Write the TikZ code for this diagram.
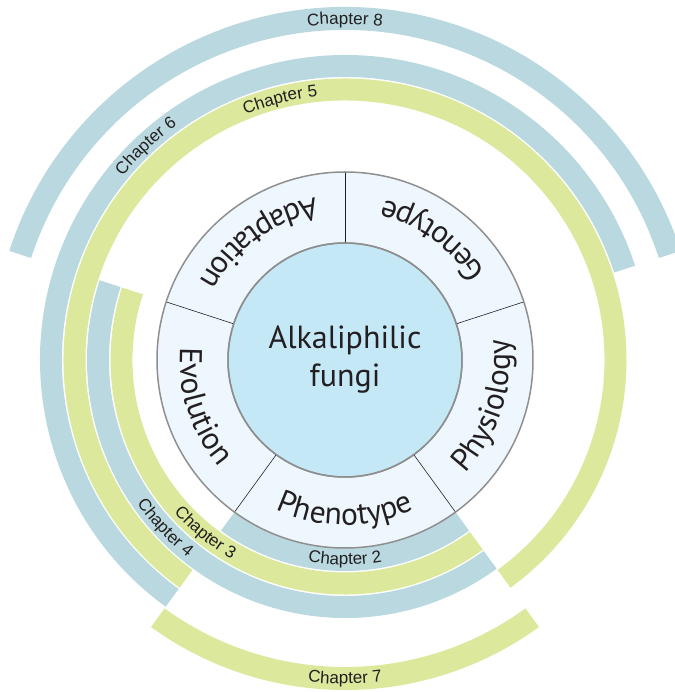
\documentclass[tikz,border=0pt]{standalone}
\usepackage{fontspec}
\setmainfont{Liberation Sans}
\newfontfamily\ptsans{PT Sans}
\newfontfamily\segfam{PT Sans}[LetterSpace=6]
\usetikzlibrary{decorations.text}

\definecolor{chblue}{HTML}{B9D8DF}
\definecolor{chgreen}{HTML}{DCE89C}
\definecolor{ringfill}{HTML}{EEF7FD}
\definecolor{hubfill}{HTML}{C5E8F7}
\definecolor{rimgray}{HTML}{8F8F8F}
\definecolor{ink}{HTML}{231F20}

\newcommand{\segfont}{\segfam\fontsize{31.5}{33}\selectfont}
\newcommand{\chfont}{\fontsize{17}{19}\selectfont}
\newcommand{\hubfont}{\ptsans\fontsize{32}{38}\selectfont}
% colour, inner radius, outer radius, start angle, end angle
\newcommand{\chband}[5]{\fill[#1] (#4:#2) arc[start angle=#4, end angle=#5, radius=#2] -- (#5:#3) arc[start angle=#5, end angle=#4, radius=#3] -- cycle;}

\tikzset{
  curvetext/.style={decorate, decoration={text along path, text align=center, text color=ink, text={#1}}},
  rim/.style={draw=rimgray, line width=1.5pt},
}

\begin{document}
\begin{tikzpicture}[x=1pt, y=1pt]
	\useasboundingbox (-345,-332) rectangle (329,360);
	\chband{chblue}{188}{211}{-126}{-54}
	\chband{chgreen}{212.5}{234.5}{162}{306}
	\chband{chblue}{236}{258}{162}{306}
	\chband{chgreen}{259.5}{281.5}{-54}{234}
	\chband{chblue}{283}{305}{18}{234}
	\chband{chgreen}{307}{330}{-126}{-54}
	\chband{chblue}{330}{353}{18}{162}
	\fill[ringfill] (0,0) circle[radius=188];
	\node[circle, rim, fill=hubfill, minimum size=234pt, inner sep=0pt, outer sep=0pt, align=center, font=\hubfont, text=ink] (hub) at (0,0) {Alkaliphilic\\fungi};
	\foreach \a in {18,90,162,234,306}
		\draw[ink, line width=0.6pt] (hub.\a) -- (\a:188);
	\draw[rim] (0,0) circle[radius=188];
	\draw[rim] (0,0) circle[radius=117];
	\path[curvetext={|\segfont|Adaptation}] (91:165) arc[start angle=91, end angle=161, radius=165];
	\path[curvetext={|\segfont|Genotype}] (19:165) arc[start angle=19, end angle=89, radius=165];
	\path[curvetext={|\segfont|Physiology}] (-53:165) arc[start angle=-53, end angle=17, radius=165];
	\path[curvetext={|\segfont|Phenotype}] (-125:165) arc[start angle=-125, end angle=-55, radius=165];
	\path[curvetext={|\segfont|Evolution}] (163:165) arc[start angle=163, end angle=233, radius=165];
	\path[curvetext={|\chfont|Chapter 2}] (-120:205) arc[start angle=-120, end angle=-60, radius=205];
	\path[curvetext={|\chfont|Chapter 3}] (201:229) arc[start angle=201, end angle=261, radius=229];
	\path[curvetext={|\chfont|Chapter 4}] (193:252.5) arc[start angle=193, end angle=253, radius=252.5];
	\path[curvetext={|\chfont|Chapter 7}] (-115:324) arc[start angle=-115, end angle=-65, radius=324];
	\path[curvetext={|\chfont|Chapter 5}] (129:265) arc[start angle=129, end angle=79, radius=265];
	\path[curvetext={|\chfont|Chapter 6}] (158:288.5) arc[start angle=158, end angle=108, radius=288.5];
	\path[curvetext={|\chfont|Chapter 8}] (115:336) arc[start angle=115, end angle=65, radius=336];
\end{tikzpicture}
\end{document}
